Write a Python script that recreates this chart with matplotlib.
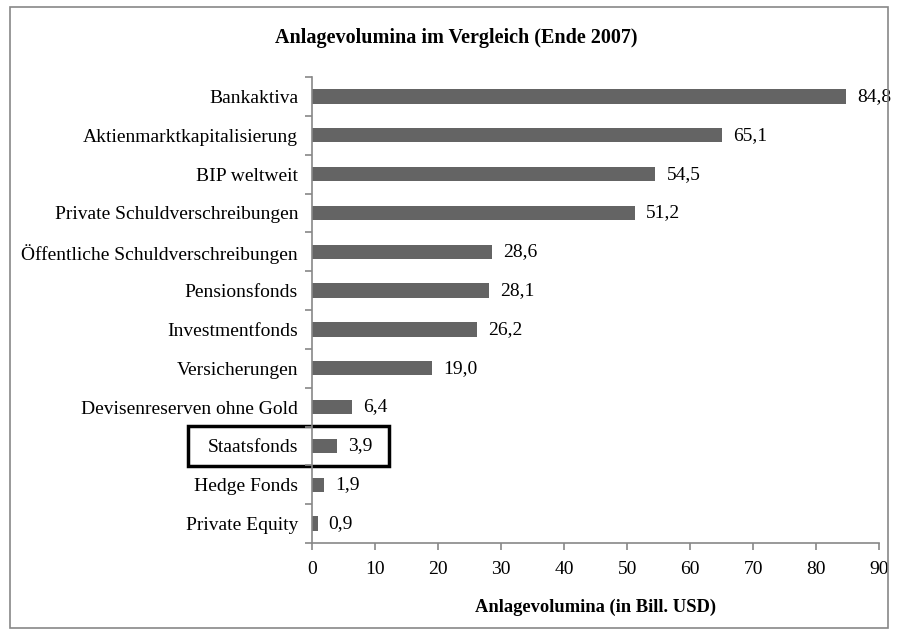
import matplotlib.pyplot as plt
import matplotlib.patches as mpatches
import numpy as np

plt.rcParams['font.family'] = ['Liberation Serif', 'DejaVu Serif']

kategorien = ['Bankaktiva', 'Aktienmarktkapitalisierung', 'BIP weltweit',
              'Private Schuldverschreibungen', 'Öffentliche Schuldverschreibungen',
              'Pensionsfonds', 'Investmentfonds', 'Versicherungen',
              'Devisenreserven ohne Gold', 'Staatsfonds', 'Hedge Fonds', 'Private Equity']
werte = [84.8, 65.1, 54.5, 51.2, 28.6, 28.1, 26.2, 19.0, 6.4, 3.9, 1.9, 0.9]
x_ticks = [0, 10, 20, 30, 40, 50, 60, 70, 80, 90]

fig = plt.figure(figsize=(8.99, 6.37), dpi=100)
ax = fig.add_axes([0.347, 0.1476, 0.631, 0.7314])

y = np.arange(len(kategorien))
bars = ax.barh(y, werte, height=0.37, color='#646464')
ax.set_ylim(len(kategorien) - 0.5, -0.5)
ax.set_xlim(0, 90)
ax.set_xticks(x_ticks)
ax.set_yticks(y)
ax.set_yticklabels(kategorien, fontsize=14)
ax.set_yticks(np.arange(-0.5, len(kategorien)), minor=True)
ax.tick_params(axis='y', which='major', length=0, pad=10)
ax.tick_params(axis='y', which='minor', length=5, color='#878787', width=1.2)
ax.tick_params(axis='x', length=5, color='#878787', width=1.2, labelsize=14, pad=8)

for s in ['top', 'right']:
    ax.spines[s].set_visible(False)
for s in ['left', 'bottom']:
    ax.spines[s].set_color('#878787')
    ax.spines[s].set_linewidth(1.2)

ax.bar_label(bars, labels=[f'{v:.1f}'.replace('.', ',') for v in werte],
             padding=8, fontsize=14)

fig.suptitle('Anlagevolumina im Vergleich (Ende 2007)', x=0.508, y=0.940,
             fontsize=14.5, fontweight='bold', va='center')
ax.set_xlabel('Anlagevolumina (in Bill. USD)', fontsize=13.3, fontweight='bold',
              labelpad=15)

# Rahmen um Staatsfonds
idx = kategorien.index('Staatsfonds')
rect = mpatches.Rectangle((-19.6, idx - 0.52), 31.9, 1.04, fill=False,
                          edgecolor='black', linewidth=2.5, clip_on=False)
ax.add_patch(rect)

# Rahmen um die ganze Grafik
fig.patches.append(mpatches.Rectangle((10 / 899, 9 / 637), 878 / 899, 621 / 637,
                                      transform=fig.transFigure, fill=False,
                                      edgecolor='#878787', linewidth=1.2))

fig.savefig('out.png', dpi=100)
